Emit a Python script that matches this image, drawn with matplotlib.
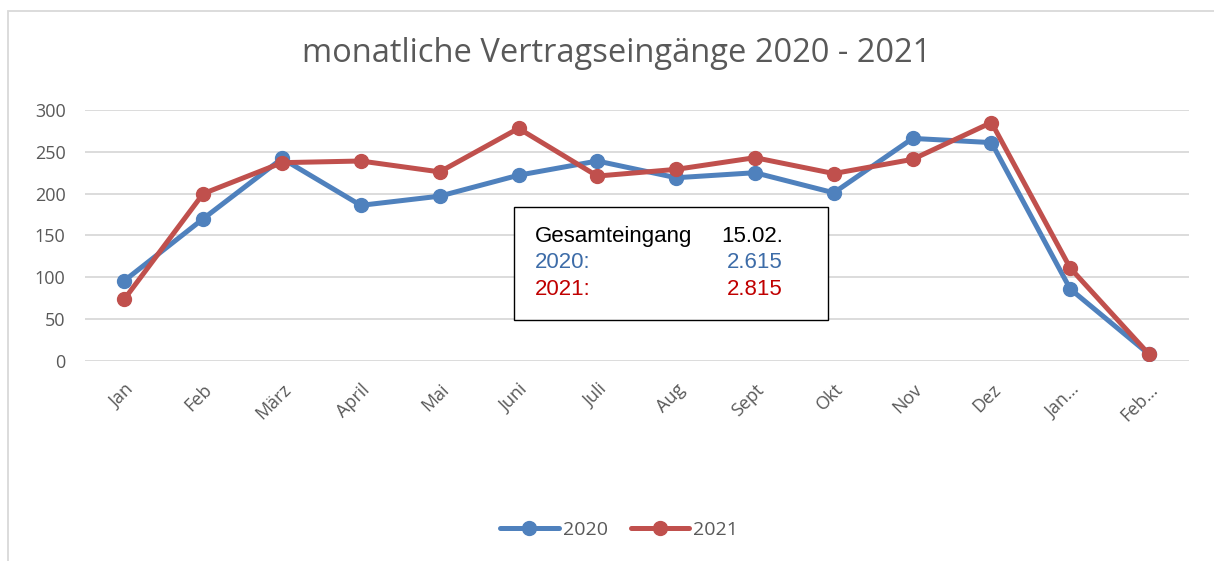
import matplotlib
matplotlib.use("Agg")
import matplotlib.pyplot as plt
from matplotlib.patches import Rectangle

# Daten
monate = ['Jan', 'Feb', 'März', 'April', 'Mai', 'Juni', 'Juli', 'Aug', 'Sept',
          'Okt', 'Nov', 'Dez', 'Jan…', 'Feb…']
werte_2020 = [96, 170, 242, 186, 197, 222, 239, 219, 225, 201, 266, 261, 86, 8]
werte_2021 = [74, 200, 237, 239, 226, 278, 221, 229, 243, 224, 241, 285, 111, 8]
y_ticks = [0, 50, 100, 150, 200, 250, 300]

blau = '#4F81BD'
rot = '#C0504D'
grau = '#595959'

plt.rcParams['font.family'] = ['Open Sans', 'DejaVu Sans']

fig = plt.figure(figsize=(12.14, 5.61), dpi=100)
ax = fig.add_axes([0.070, 0.3565, 0.909, 0.4475])

x = list(range(len(monate)))
ax.plot(x, werte_2020, color=blau, lw=3.6, marker='o', ms=10, label='2020',
        solid_capstyle='round', zorder=3)
ax.plot(x, werte_2021, color=rot, lw=3.6, marker='o', ms=10, label='2021',
        solid_capstyle='round', zorder=4)

ax.set_xlim(-0.5, len(monate) - 0.5)
ax.set_ylim(0, 300)
ax.set_yticks(y_ticks)
ax.set_yticklabels([str(v) for v in y_ticks], fontsize=13, color=grau)
ax.set_xticks(x)
ax.set_xticklabels(monate, rotation=45, ha='right', rotation_mode='anchor',
                   fontsize=13, color=grau)
ax.tick_params(axis='both', length=0)
ax.tick_params(axis='x', pad=14)
ax.tick_params(axis='y', pad=14)
ax.grid(axis='y', color='#D9D9D9', lw=1.3)
ax.set_axisbelow(True)
for s in ax.spines.values():
    s.set_visible(False)

fig.text(0.508, 0.905, 'monatliche Vertragseingänge 2020 - 2021', ha='center',
         va='center', fontsize=23.5, color=grau)

# Textfeld mit Gesamteingang
fig.patches.append(Rectangle((514 / 1214, 1 - 320 / 561), 314 / 1214, 113 / 561,
                             transform=fig.transFigure, facecolor='white',
                             edgecolor='black', lw=1.0, zorder=5))
box_font = ['Liberation Sans', 'DejaVu Sans']
fs_box = 16
fig.text(535 / 1214, 1 - 242 / 561, 'Gesamteingang', fontsize=fs_box,
         color='black', family=box_font, zorder=6)
fig.text(783 / 1214, 1 - 242 / 561, '15.02.', fontsize=fs_box,
         color='black', family=box_font, ha='right', zorder=6)
fig.text(535 / 1214, 1 - 268 / 561, '2020:', fontsize=fs_box, color='#3D6CA8',
         family=box_font, zorder=6)
fig.text(783 / 1214, 1 - 268 / 561, '2.615', fontsize=fs_box, color='#3D6CA8',
         family=box_font, ha='right', zorder=6)
fig.text(535 / 1214, 1 - 295 / 561, '2021:', fontsize=fs_box, color='#C00000',
         family=box_font, zorder=6)
fig.text(783 / 1214, 1 - 295 / 561, '2.815', fontsize=fs_box, color='#C00000',
         family=box_font, ha='right', zorder=6)

# Rahmen des Diagrammbereichs
fig.patches.append(Rectangle((8 / 1214, -0.05), 1.1, 1.05 - 11 / 561,
                             transform=fig.transFigure, facecolor='none',
                             edgecolor='#D9D9D9', lw=1.3))

leg = fig.legend(loc='center', bbox_to_anchor=(0.51, 1 - 530 / 561), ncol=2,
                 frameon=False, fontsize=14, handlelength=3,
                 columnspacing=1.2, handletextpad=0.2)
for t in leg.get_texts():
    t.set_color(grau)

fig.savefig('out.png', dpi=100, facecolor='white')
